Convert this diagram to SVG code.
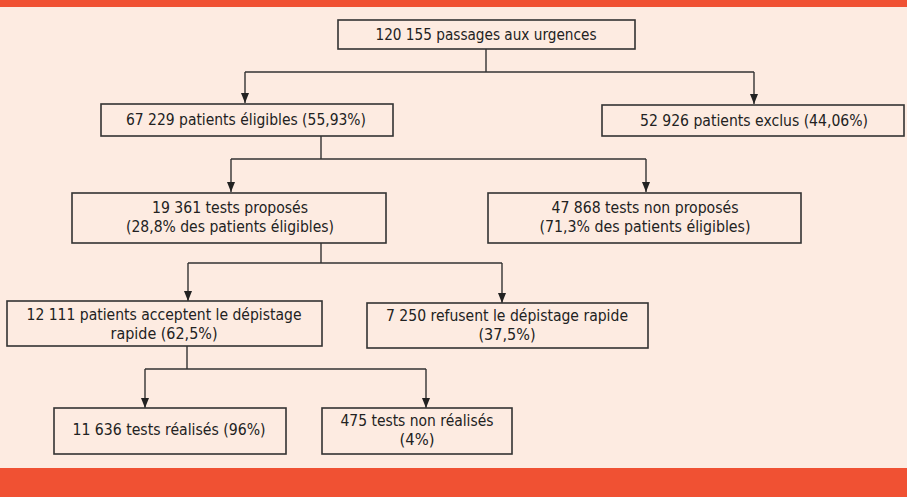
<svg xmlns="http://www.w3.org/2000/svg" width="907" height="497" viewBox="0 0 907 497">
<style>
.box{fill:#FDEBE1;stroke:#333;stroke-width:1.6}
.t{font-family:"DejaVu Sans Condensed","Liberation Sans",sans-serif;font-size:16px;fill:#222;text-anchor:middle}
.c{fill:none;stroke:#333;stroke-width:1.4}
</style>
<defs>
<marker id="ah" viewBox="0 0 10 8" refX="10" refY="4" markerWidth="10" markerHeight="8" markerUnits="userSpaceOnUse" orient="auto">
<path d="M0,0 L10,4 L0,8 Z" fill="#222"/>
</marker>
</defs>
<rect x="0" y="0" width="907" height="497" fill="#FDEBE1"/>
<rect x="0" y="0" width="907" height="7" fill="#F05133"/>
<rect x="0" y="468" width="907" height="29" fill="#F05133"/>
<g id="connectors">
<path class="c" d="M486,49 V72 M245,72 H754"/>
<path class="c" d="M245,72 V103" marker-end="url(#ah)"/>
<path class="c" d="M754,72 V104" marker-end="url(#ah)"/>
<path class="c" d="M321,136 V159 M231,159 H646"/>
<path class="c" d="M231,159 V192" marker-end="url(#ah)"/>
<path class="c" d="M646,159 V192" marker-end="url(#ah)"/>
<path class="c" d="M321,243 V263 M188,263 H502"/>
<path class="c" d="M188,263 V301" marker-end="url(#ah)"/>
<path class="c" d="M502,263 V303" marker-end="url(#ah)"/>
<path class="c" d="M187,346 V369 M145,369 H426"/>
<path class="c" d="M145,369 V408" marker-end="url(#ah)"/>
<path class="c" d="M426,369 V408" marker-end="url(#ah)"/>
</g>
<g id="n1"><rect class="box" x="338" y="20" width="297" height="29"/>
<text class="t" x="486" y="40" textLength="221" lengthAdjust="spacingAndGlyphs">120 155 passages aux urgences</text></g>
<g id="n2"><rect class="box" x="101" y="104" width="292" height="32"/>
<text class="t" x="246" y="125" textLength="240" lengthAdjust="spacingAndGlyphs">67 229 patients éligibles (55,93%)</text></g>
<g id="n3"><rect class="box" x="602" y="105" width="302" height="31"/>
<text class="t" x="754" y="126" textLength="228" lengthAdjust="spacingAndGlyphs">52 926 patients exclus (44,06%)</text></g>
<g id="n4"><rect class="box" x="72" y="193" width="314" height="50"/>
<text class="t" x="230" y="213" textLength="156" lengthAdjust="spacingAndGlyphs">19 361 tests proposés</text>
<text class="t" x="230" y="232" textLength="208" lengthAdjust="spacingAndGlyphs">(28,8% des patients éligibles)</text></g>
<g id="n5"><rect class="box" x="488" y="193" width="313" height="50"/>
<text class="t" x="645" y="213" textLength="187" lengthAdjust="spacingAndGlyphs">47 868 tests non proposés</text>
<text class="t" x="645" y="232" textLength="211" lengthAdjust="spacingAndGlyphs">(71,3% des patients éligibles)</text></g>
<g id="n6"><rect class="box" x="7" y="301" width="315" height="45"/>
<text class="t" x="164" y="320" textLength="275" lengthAdjust="spacingAndGlyphs">12 111 patients acceptent le dépistage</text>
<text class="t" x="164" y="339" textLength="107" lengthAdjust="spacingAndGlyphs">rapide (62,5%)</text></g>
<g id="n7"><rect class="box" x="367" y="303" width="281" height="45"/>
<text class="t" x="507" y="321" textLength="242" lengthAdjust="spacingAndGlyphs">7 250 refusent le dépistage rapide</text>
<text class="t" x="507" y="340" textLength="57" lengthAdjust="spacingAndGlyphs">(37,5%)</text></g>
<g id="n8"><rect class="box" x="54" y="408" width="232" height="46"/>
<text class="t" x="169" y="435" textLength="193" lengthAdjust="spacingAndGlyphs">11 636 tests réalisés (96%)</text></g>
<g id="n9"><rect class="box" x="322" y="408" width="190" height="46"/>
<text class="t" x="417" y="426" textLength="153" lengthAdjust="spacingAndGlyphs">475 tests non réalisés</text>
<text class="t" x="417" y="445" textLength="35" lengthAdjust="spacingAndGlyphs">(4%)</text></g>
</svg>
